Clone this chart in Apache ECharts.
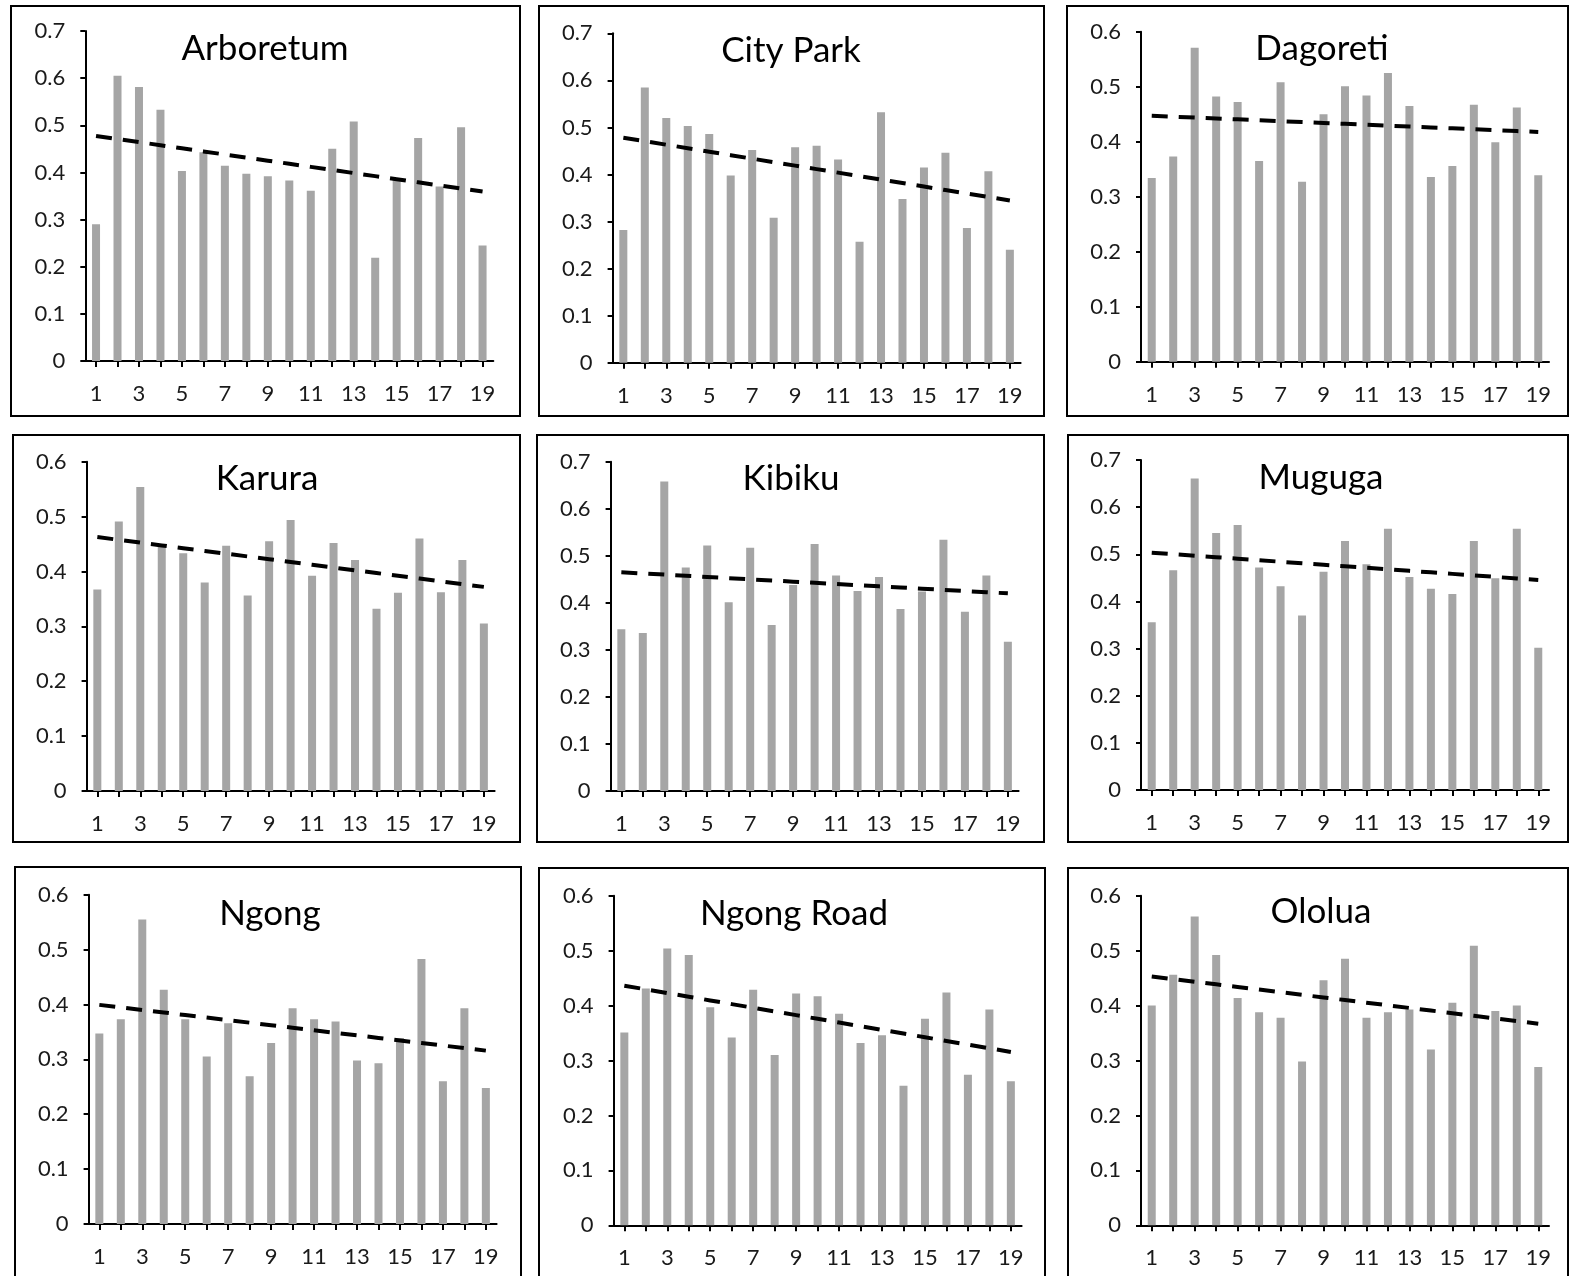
<!DOCTYPE html>
<html>
<head>
<meta charset="utf-8">
<script src="https://cdn.jsdelivr.net/npm/echarts@6/dist/echarts.min.js"></script>
<style>
html,body{margin:0;padding:0;background:#ffffff;}
#chart{width:1580px;height:1276px;}
</style>
</head>
<body>
<div id="chart"></div>
<script>
// ---------- DATA ----------
const categories = ['1','2','3','4','5','6','7','8','9','10','11','12','13','14','15','16','17','18','19'];
const siteNames = ['Arboretum','City Park','Dagoreti','Karura','Kibiku','Muguga','Ngong','Ngong Road','Ololua'];
const yAxisMax = [0.7, 0.7, 0.6, 0.6, 0.7, 0.7, 0.6, 0.6, 0.6];

const arboretum = [0.290,0.605,0.581,0.533,0.403,0.443,0.414,0.397,0.392,0.383,0.361,0.450,0.508,0.219,0.386,0.473,0.370,0.496,0.245];
const cityPark  = [0.282,0.585,0.520,0.503,0.486,0.398,0.452,0.308,0.458,0.461,0.432,0.257,0.532,0.348,0.415,0.446,0.286,0.407,0.240];
const dagoreti  = [0.334,0.373,0.571,0.482,0.472,0.365,0.508,0.327,0.450,0.501,0.484,0.525,0.465,0.336,0.356,0.467,0.399,0.462,0.339];
const karura    = [0.367,0.491,0.554,0.445,0.433,0.380,0.447,0.356,0.455,0.494,0.392,0.452,0.421,0.332,0.361,0.460,0.362,0.421,0.305];
const kibiku    = [0.344,0.336,0.658,0.475,0.522,0.401,0.517,0.353,0.438,0.525,0.458,0.425,0.455,0.387,0.424,0.534,0.381,0.458,0.317];
const muguga    = [0.356,0.466,0.661,0.545,0.562,0.472,0.432,0.370,0.463,0.528,0.479,0.554,0.452,0.427,0.416,0.528,0.449,0.554,0.302];
const ngong     = [0.347,0.373,0.555,0.427,0.373,0.305,0.366,0.269,0.330,0.393,0.373,0.369,0.298,0.293,0.339,0.483,0.260,0.393,0.248];
const ngongRoad = [0.351,0.431,0.504,0.492,0.397,0.342,0.429,0.310,0.422,0.417,0.385,0.332,0.346,0.254,0.376,0.424,0.274,0.393,0.262];
const ololua    = [0.400,0.456,0.562,0.492,0.414,0.388,0.378,0.298,0.446,0.485,0.378,0.388,0.393,0.320,0.405,0.509,0.390,0.400,0.288];

const siteValues = [arboretum, cityPark, dagoreti, karura, kibiku, muguga, ngong, ngongRoad, ololua];

// ---------- LAYOUT (positions in px) ----------
const plotRects = [
  {left:85.3,  top:31,    zero:361},
  {left:612.6, top:33.3,  zero:362.7},
  {left:1141,  top:31.7,  zero:361.7},
  {left:86.6,  top:461.7, zero:791},
  {left:610.6, top:461.7, zero:791},
  {left:1141,  top:460,   zero:790},
  {left:88.6,  top:894.7, zero:1224},
  {left:613.6, top:895.7, zero:1225.3},
  {left:1141,  top:895.7, zero:1225.3}
];
const plotWidth = 408;
const boxes = [
  [11,6,520,416],[539,6,1044,416],[1067,6,1568,416],
  [13,435,520,842],[537,435,1044,842],[1068,435,1568,842],
  [15,867,521,1300],[539,868,1045,1300],[1068,868,1568,1300]
];
const titlePos = [
  [265,50],[791,52],[1322,50],
  [267,480],[791,480],[1321,479],
  [270,915],[794,915],[1321,913]
];

// Linear least-squares trend of a bar series (Excel-style linear trendline)
function linearTrend(vals){
  const n = vals.length;
  let sx=0, sy=0, sxx=0, sxy=0;
  vals.forEach((v,i)=>{const x=i+1; sx+=x; sy+=v; sxx+=x*x; sxy+=x*v;});
  const slope = (n*sxy - sx*sy)/(n*sxx - sx*sx);
  const icpt = (sy - slope*sx)/n;
  return vals.map((v,i)=> +(icpt + slope*(i+1)).toFixed(5));
}

const FONT = 'Lato';
const grid = [], xAxis = [], yAxis = [], series = [], title = [], graphic = [];

siteValues.forEach((vals, k) => {
  const r = plotRects[k];
  grid.push({left:r.left, top:r.top, width:plotWidth, height:r.zero - r.top, containLabel:false});
  xAxis.push({
    type:'category', gridIndex:k, data:categories, boundaryGap:true,
    axisLine:{show:true, lineStyle:{color:'#000', width:2}},
    axisTick:{show:true, alignWithLabel:true, interval:0, length:6, lineStyle:{color:'#000', width:2}},
    axisLabel:{interval:1, margin:22, fontSize:22, fontFamily:FONT, color:'#1a1a1a'},
    splitLine:{show:false}
  });
  yAxis.push({
    type:'value', gridIndex:k, min:0, max:yAxisMax[k], interval:0.1,
    axisLine:{show:true, lineStyle:{color:'#000', width:2}},
    axisTick:{show:true, length:5, lineStyle:{color:'#000', width:2}},
    axisLabel:{margin:20, fontSize:22, fontFamily:FONT, color:'#1a1a1a',
      formatter:v => v === 0 ? '0' : v.toFixed(1)},
    splitLine:{show:false}
  });
  series.push({
    type:'bar', name:siteNames[k], xAxisIndex:k, yAxisIndex:k, data:vals,
    barWidth:8, itemStyle:{color:'#a5a5a5'}, z:2, silent:true
  });
  series.push({
    type:'line', name:siteNames[k] + ' trend', xAxisIndex:k, yAxisIndex:k,
    data:linearTrend(vals), symbol:'none', smooth:false, z:5, silent:true,
    lineStyle:{color:'#000', width:4, type:[16,11]}
  });
  title.push({
    text:siteNames[k], left:titlePos[k][0], top:titlePos[k][1] - 19, textAlign:'center', padding:0,
    textStyle:{fontSize:35, fontWeight:'normal', fontFamily:FONT, color:'#000'}
  });
  const b = boxes[k];
  graphic.push({
    type:'rect', silent:true, z:0,
    shape:{x:b[0], y:b[1], width:b[2]-b[0], height:b[3]-b[1]},
    style:{fill:'none', stroke:'#000', lineWidth:2}
  });
});

const chart = echarts.init(document.getElementById('chart'), null, {renderer:'canvas'});
chart.setOption({
  animation:false,
  backgroundColor:'#ffffff',
  title, grid, xAxis, yAxis, series, graphic
});
</script>
</body>
</html>
